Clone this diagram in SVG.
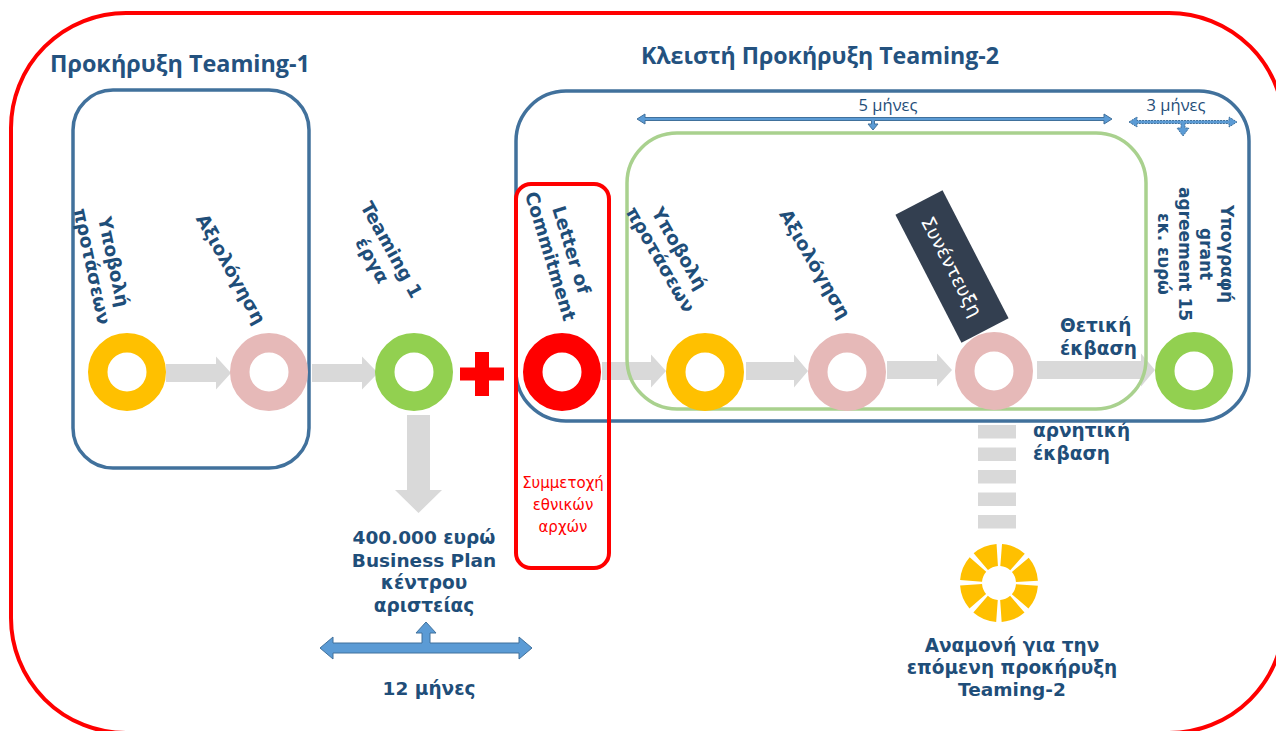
<svg xmlns="http://www.w3.org/2000/svg" width="1276" height="731" viewBox="0 0 1276 731">
<style>
.lbl{font-family:"DejaVu Sans",Verdana,sans-serif;font-weight:bold;font-size:18.5px;fill:#1F4E79}
.ttl{font-family:"Open Sans","Noto Sans",sans-serif;font-weight:700;font-size:24px;fill:#24527F}
.mon{font-family:"Open Sans","Noto Sans",sans-serif;font-size:16.5px;fill:#1F4E79}
.box{fill:none;stroke:#41719C;stroke-width:3.5}
.ring{fill:none;stroke-width:19.5}
.garrow{fill:#D9D9D9}
.barrow{fill:#5B9BD5;stroke:#41719C;stroke-width:1}
</style>
<rect width="1276" height="731" fill="#FFFFFF"/>
<g id="frame">
<rect x="11" y="13" width="1273" height="720" rx="115" ry="115" fill="none" stroke="#FF0000" stroke-width="4"/>
</g>
<g id="connectors">
<polygon class="garrow" points="166,364 216,364 216,356.5 231,373 216,389.5 216,382 166,382"/>
<polygon class="garrow" points="312,364 362,364 362,356.5 378,373 362,389.5 362,382 312,382"/>
<polygon class="garrow" points="602,362 651,362 651,354.5 666,371 651,387.5 651,380 602,380"/>
<polygon class="garrow" points="746,362 794,362 794,354.5 808,371 794,387.5 794,380 746,380"/>
<polygon class="garrow" points="887,361 937,361 937,353.5 952,370 937,386.5 937,379 887,379"/>
<polygon class="garrow" points="1037,361 1141,361 1141,353.5 1155,370 1141,386.5 1141,379 1037,379"/>
<polygon class="garrow" points="407,415 430,415 430,490 442,490 418.5,513 395,490 407,490"/>
<g class="garrow">
<rect x="978" y="425" width="38" height="13.5"/>
<rect x="978" y="447.5" width="38" height="13.5"/>
<rect x="978" y="470" width="38" height="13.5"/>
<rect x="978" y="492.5" width="38" height="13.5"/>
<rect x="978" y="515" width="38" height="13.5"/>
</g>
<polygon class="barrow" points="320,648 333,637 333,643 422,643 422,633 416,633 426,622 436,633 430,633 430,643 519,643 519,637 532,648 519,659 519,653 333,653 333,659"/>
<polygon class="barrow" points="637,119 645,114 645,117.5 1104,117.5 1104,114 1112,119 1104,124 1104,120.5 874.5,120.5 874.5,124 878,124 873,130 868,124 871.5,124 871.5,120.5 645,120.5 645,124"/>
<polygon class="barrow" stroke-dasharray="2 1" points="1129,122 1137,117 1137,120.5 1229,120.5 1229,117 1237,122 1229,127 1229,123.5 1185,123.5 1185,128 1189,128 1183,136 1177,128 1181,128 1181,123.5 1137,123.5 1137,127"/>
</g>
<g id="neg-label">
<text class="lbl"><tspan x="1033" y="437">αρνητική</tspan><tspan x="1033" y="460">έκβαση</tspan></text>
</g>
<g id="teaming1-box">
<rect class="box" x="73" y="90" width="236" height="378" rx="40" ry="40"/>
</g>
<g id="teaming2-box">
<rect class="box" x="516" y="91" width="733" height="330" rx="50" ry="50"/>
</g>
<g id="stage-box">
<rect x="627" y="133" width="519" height="276" rx="50" ry="50" fill="none" stroke="#A9D18E" stroke-width="3.5"/>
</g>
<g id="commitment-box">
<rect x="516" y="184" width="93" height="384" rx="15" ry="15" fill="none" stroke="#FF0000" stroke-width="4"/>
<text font-family="'DejaVu Sans',Tahoma,sans-serif" font-size="15" fill="#FF0000" text-anchor="middle"><tspan x="563" y="488">Συμμετοχή</tspan><tspan x="563" y="510">εθνικών</tspan><tspan x="563" y="532">αρχών</tspan></text>
</g>
<g id="titles">
<text class="ttl" x="50" y="72" textLength="260" lengthAdjust="spacingAndGlyphs">Προκήρυξη Teaming-1</text>
<text class="ttl" x="641" y="64" textLength="358" lengthAdjust="spacingAndGlyphs">Κλειστή Προκήρυξη Teaming-2</text>
<text class="mon" x="888" y="111" text-anchor="middle">5 μήνες</text>
<text class="mon" x="1176" y="111" text-anchor="middle">3 μήνες</text>
</g>
<g id="n1-submit">
<circle class="ring" cx="127" cy="372" r="29.25" stroke="#FFC000"/>
<g transform="translate(103,264) rotate(78)"><text class="lbl" text-anchor="middle"><tspan x="0" y="-4.5">Υποβολή</tspan><tspan x="0" y="17.5">προτάσεων</tspan></text></g>
</g>
<g id="n1-eval">
<circle class="ring" cx="269" cy="372" r="29.25" stroke="#E6B9B8"/>
<g transform="translate(231,269) rotate(61)"><text class="lbl" text-anchor="middle"><tspan x="0" y="6.5">Αξιολόγηση</tspan></text></g>
</g>
<g id="n1-projects">
<circle class="ring" cx="414" cy="372" r="29.25" stroke="#92D050"/>
<g transform="translate(382,255) rotate(61)"><text class="lbl" text-anchor="middle"><tspan x="0" y="-4.5">Teaming 1</tspan><tspan x="0" y="17.5">έργα</tspan></text></g>
</g>
<g id="plus">
<rect x="475" y="352" width="14" height="44" fill="#FF0000"/>
<rect x="460" y="367.5" width="44" height="13" fill="#FF0000"/>
</g>
<g id="n2-commitment">
<circle class="ring" cx="562" cy="372" r="29.25" stroke="#FF0000"/>
<g transform="translate(561,253) rotate(73)"><text class="lbl" text-anchor="middle"><tspan x="0" y="-4.5">Letter of</tspan><tspan x="0" y="17.5">Commitment</tspan></text></g>
</g>
<g id="n2-submit">
<circle class="ring" cx="705" cy="372" r="29.25" stroke="#FFC000"/>
<g transform="translate(670,254) rotate(60)"><text class="lbl" text-anchor="middle"><tspan x="0" y="-4.5">Υποβολή</tspan><tspan x="0" y="17.5">προτάσεων</tspan></text></g>
</g>
<g id="n2-eval">
<circle class="ring" cx="847" cy="372" r="29.25" stroke="#E6B9B8"/>
<g transform="translate(815,264) rotate(60)"><text class="lbl" text-anchor="middle"><tspan x="0" y="6.5">Αξιολόγηση</tspan></text></g>
</g>
<g id="n2-interview">
<circle class="ring" cx="994" cy="371" r="29.25" stroke="#E6B9B8"/>
<g transform="translate(952,266.5) rotate(62.7)">
<rect x="-72" y="-26.5" width="144" height="53" fill="#333F50"/>
<text font-family="'DejaVu Sans',Tahoma,sans-serif" font-size="19" fill="#FFFFFF" text-anchor="middle" x="0" y="7">Συνέντευξη</text>
</g>
</g>
<g id="n2-positive">
<text class="lbl"><tspan x="1060" y="332">Θετική</tspan><tspan x="1060" y="355">έκβαση</tspan></text>
</g>
<g id="n2-grant">
<circle class="ring" cx="1194" cy="371" r="29.25" stroke="#92D050"/>
<g transform="translate(1195,254) rotate(90)"><text class="lbl" style="font-size:17px" text-anchor="middle"><tspan x="0" y="-25.5">Υπογραφή</tspan><tspan x="0" y="-4.5">grant</tspan><tspan x="0" y="16.5">agreement 15</tspan><tspan x="0" y="37.5">εκ. ευρώ</tspan></text></g>
</g>
<g id="n-business-plan">
<text class="lbl" text-anchor="middle"><tspan x="424" y="544">400.000 ευρώ</tspan><tspan x="424" y="567">Business Plan</tspan><tspan x="424" y="589">κέντρου</tspan><tspan x="424" y="612">αριστείας</tspan></text>
<text class="lbl" text-anchor="middle" x="429" y="695">12 μήνες</text>
</g>
<g id="n-wait">
<circle cx="999" cy="583" r="28" fill="none" stroke="#FFC000" stroke-width="22" stroke-dasharray="17.99 4" stroke-dashoffset="19.99"/>
<text class="lbl" text-anchor="middle"><tspan x="1012" y="652">Αναμονή για την</tspan><tspan x="1012" y="674">επόμενη προκήρυξη</tspan><tspan x="1012" y="696">Teaming-2</tspan></text>
</g>
</svg>
